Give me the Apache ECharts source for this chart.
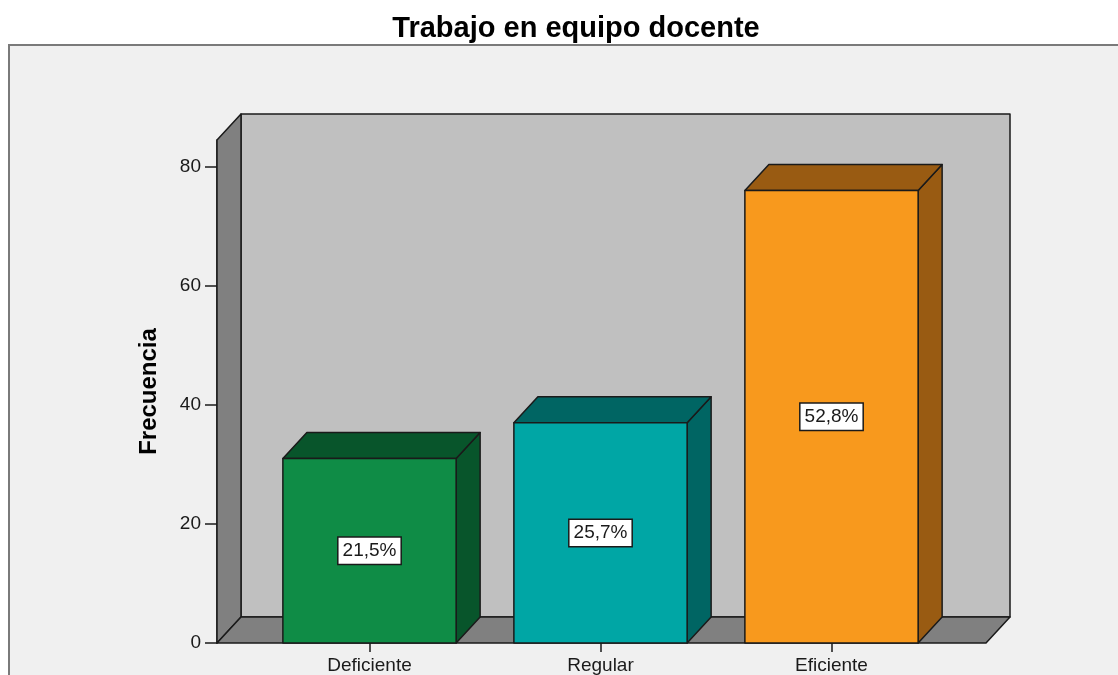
<!DOCTYPE html>
<html>
<head>
<meta charset="utf-8">
<title>Trabajo en equipo docente</title>
<script src="https://cdn.jsdelivr.net/npm/echarts@6/dist/echarts.min.js"></script>
<style>
  html, body { margin: 0; padding: 0; background: #fff; }
  #chart { width: 1118px; height: 675px; }
</style>
</head>
<body>
<div id="chart"></div>
<script>
// datos (n = 144)
const categories = ['Deficiente', 'Regular', 'Eficiente']
const frequencies = [31, 37, 76]
const yTicks = [0, 20, 40, 60, 80]
const Y_MAX = 84.5

const FONT = '"Liberation Sans", Arial, sans-serif'
const DEPTH_X = 24
const DEPTH_Y = -26
const WALL_PAD_LEFT = 37
const WALL_PAD_RIGHT = 39
const BAR_RATIO = 0.75
const EDGE = '#1a1a1a'
const barColors = [
  { front: '#0f8c46', dark: '#08552b' },
  { front: '#00a6a5', dark: '#006563' },
  { front: '#f8991d', dark: '#995b12' }
]

const total = frequencies.reduce((a, b) => a + b, 0)
const percentLabels = frequencies.map(v => (v / total * 100).toFixed(1).replace('.', ',') + '%')

function renderWalls (params, api) {
  const cs = params.coordSys
  const left = cs.x - WALL_PAD_LEFT
  const right = cs.x + cs.width + WALL_PAD_RIGHT
  const top = cs.y
  const bottom = cs.y + cs.height
  const dx = DEPTH_X
  const dy = DEPTH_Y
  const edge = { stroke: EDGE, lineWidth: 1.5, lineJoin: 'round' }
  return {
    type: 'group',
    children: [
      {
        type: 'polygon',
        shape: { points: [[left + dx, top + dy], [right + dx, top + dy], [right + dx, bottom + dy], [left + dx, bottom + dy]] },
        style: Object.assign({ fill: '#c0c0c0' }, edge)
      },
      {
        type: 'polygon',
        shape: { points: [[left, top], [left + dx, top + dy], [left + dx, bottom + dy], [left, bottom]] },
        style: Object.assign({ fill: '#808080' }, edge)
      },
      {
        type: 'polygon',
        shape: { points: [[left, bottom], [left + dx, bottom + dy], [right + dx, bottom + dy], [right, bottom]] },
        style: Object.assign({ fill: '#808080' }, edge)
      }
    ]
  }
}

function renderBar (params, api) {
  const i = api.value(0)
  const v = api.value(1)
  const base = api.coord([i, 0])
  const top = api.coord([i, v])
  const w = api.size([1, 0])[0] * BAR_RATIO
  const x0 = base[0] - w / 2
  const x1 = base[0] + w / 2
  const y0 = top[1]
  const y1 = base[1]
  const dx = DEPTH_X
  const dy = DEPTH_Y
  const c = barColors[params.dataIndex]
  const edge = { stroke: EDGE, lineWidth: 1.5, lineJoin: 'round' }
  return {
    type: 'group',
    children: [
      {
        type: 'polygon',
        shape: { points: [[x1, y0], [x1 + dx, y0 + dy], [x1 + dx, y1 + dy], [x1, y1]] },
        style: Object.assign({ fill: c.dark }, edge)
      },
      {
        type: 'polygon',
        shape: { points: [[x0, y0], [x0 + dx, y0 + dy], [x1 + dx, y0 + dy], [x1, y0]] },
        style: Object.assign({ fill: c.dark }, edge)
      },
      {
        type: 'rect',
        shape: { x: x0, y: y0, width: w, height: y1 - y0 },
        style: Object.assign({ fill: c.front }, edge)
      },
      {
        type: 'text',
        x: base[0],
        y: (y0 + y1) / 2,
        style: {
          text: percentLabels[params.dataIndex],
          fill: '#1a1a1a',
          font: '19px ' + FONT,
          align: 'center',
          verticalAlign: 'middle',
          backgroundColor: '#fff',
          borderColor: '#1a1a1a',
          borderWidth: 1.5,
          padding: [4, 4, 3, 4]
        }
      }
    ]
  }
}

function buildOption () {
  return {
    animation: false,
    backgroundColor: '#fff',
    title: {
      text: 'Trabajo en equipo docente',
      left: 571,
      textAlign: 'center',
      top: 9,
      textStyle: { fontFamily: FONT, fontWeight: 'bold', fontSize: 29, color: '#000' }
    },
    graphic: [
      {
        type: 'rect',
        z: -10,
        silent: true,
        shape: { x: 9, y: 45, width: 1200, height: 700 },
        style: { fill: '#f0f0f0', stroke: '#7a7a7a', lineWidth: 2 }
      }
    ],
    grid: { left: 254, right: 171, top: 140, bottom: 32 },
    xAxis: {
      type: 'category',
      data: categories,
      axisLine: { show: false },
      axisTick: { show: true, alignWithLabel: true, length: 9, lineStyle: { color: '#1a1a1a', width: 1.5 } },
      axisLabel: { margin: 13, fontFamily: FONT, fontSize: 19, color: '#1a1a1a' },
      splitLine: { show: false }
    },
    yAxis: {
      type: 'value',
      min: 0,
      max: Y_MAX,
      offset: WALL_PAD_LEFT,
      name: 'Frecuencia',
      nameLocation: 'middle',
      nameGap: 56,
      nameTextStyle: { fontFamily: FONT, fontWeight: 'bold', fontSize: 24, color: '#000' },
      axisLine: { show: true, lineStyle: { color: '#1a1a1a', width: 1.5 } },
      axisTick: { show: true, length: 12, customValues: yTicks, lineStyle: { color: '#1a1a1a', width: 1.5 } },
      axisLabel: { customValues: yTicks, margin: 16, fontFamily: FONT, fontSize: 19, color: '#1a1a1a' },
      splitLine: { show: false }
    },
    series: [
      {
        type: 'custom',
        silent: true,
        clip: false,
        z: 1,
        renderItem: renderWalls,
        data: [[0, 0]]
      },
      {
        type: 'custom',
        clip: false,
        z: 2,
        renderItem: renderBar,
        data: frequencies.map((v, i) => [i, v])
      }
    ]
  }
}

const chart = echarts.init(document.getElementById('chart'))
chart.setOption(buildOption())
</script>
</body>
</html>
